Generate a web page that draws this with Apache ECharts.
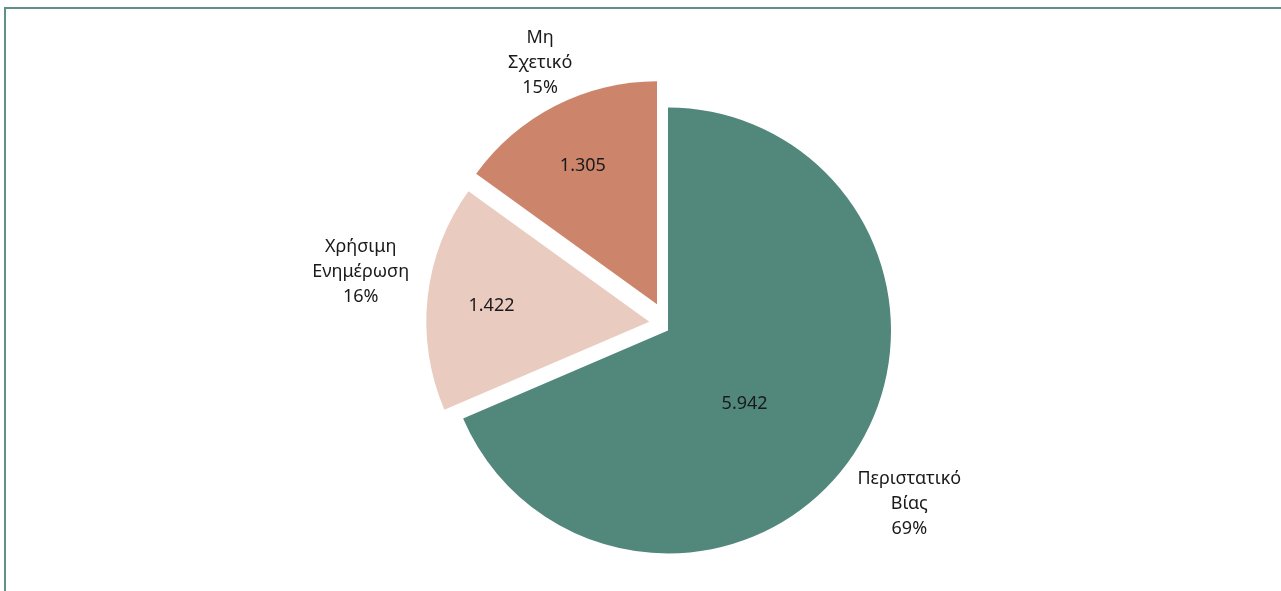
<!DOCTYPE html>
<html>
<head>
<meta charset="utf-8">
<script src="https://cdn.jsdelivr.net/npm/echarts@6/dist/echarts.min.js"></script>
<style>
html,body{margin:0;padding:0;background:#fff;}
#chart{width:1281px;height:591px;}
</style>
</head>
<body>
<div id="chart"></div>
<script>
// ---- data ----
const categories = ['Περιστατικό Βίας', 'Χρήσιμη Ενημέρωση', 'Μη Σχετικό'];
const labelLines = [['Περιστατικό', 'Βίας'], ['Χρήσιμη', 'Ενημέρωση'], ['Μη', 'Σχετικό']];
const values = [5942, 1422, 1305];

// ---- style / layout ----
const colors = ['#52877c', '#eacbc0', '#cc846b'];
const baseCenter = [668, 330.5];
const radius = 223;
// explosion offsets of each slice (pixels, from the base centre)
const explode = [[0, 0], [-18.7, -8.8], [-11, -26.2]];
// label nudges
const insideNudge = [[-19, 10], [-44, -3], [-22, -36]];
const outsideNudge = [[5, 18], [-26, -28], [1, -16]];
const textColor = '#1a1a1a';
const fontFamily = '"Noto Sans", "Open Sans", sans-serif';

const total = values.reduce((a, b) => a + b, 0);
function fmtThousands(v) {
  return String(v).replace(/\B(?=(\d{3})+(?!\d))/g, '.');
}

const series = [];
// one series per slice (so every slice can be exploded on its own)
values.forEach((_, k) => {
  series.push({
    type: 'pie',
    silent: true,
    center: [baseCenter[0] + explode[k][0], baseCenter[1] + explode[k][1]],
    radius: radius,
    startAngle: 90,
    clockwise: true,
    avoidLabelOverlap: false,
    animation: false,
    data: categories.map((name, i) => ({
      name: name,
      value: values[i],
      itemStyle: { color: i === k ? colors[i] : 'rgba(0,0,0,0)', borderWidth: 0 },
      label: { show: i === k }
    })),
    label: {
      position: 'inside',
      color: textColor,
      fontFamily: fontFamily,
      fontSize: 18,
      formatter: p => fmtThousands(p.value)
    },
    labelLine: { show: false },
    labelLayout: p => (p.dataIndex === k ? { dx: insideNudge[k][0], dy: insideNudge[k][1] } : {})
  });
});
// transparent series carrying the category / percentage labels
series.push({
  type: 'pie',
  silent: true,
  center: baseCenter,
  radius: 560,
  startAngle: 90,
  clockwise: true,
  avoidLabelOverlap: false,
  animation: false,
  data: categories.map((name, i) => ({
    name: name,
    value: values[i],
    itemStyle: { color: 'rgba(0,0,0,0)', borderWidth: 0 }
  })),
  label: {
    position: 'inside',
    color: textColor,
    fontFamily: fontFamily,
    fontSize: 18,
    lineHeight: 25,
    align: 'center',
    formatter: p => labelLines[p.dataIndex].join('\n') + '\n' + Math.round(p.value / total * 100) + '%'
  },
  labelLine: { show: false },
  labelLayout: p => ({ dx: outsideNudge[p.dataIndex][0], dy: outsideNudge[p.dataIndex][1] })
});

const chart = echarts.init(document.getElementById('chart'), null, { renderer: 'canvas' });
chart.setOption({
  backgroundColor: '#fff',
  animation: false,
  graphic: [{
    type: 'rect',
    silent: true,
    shape: { x: 5, y: 8, width: 1400, height: 800 },
    style: { fill: 'none', stroke: '#5f9186', lineWidth: 2 }
  }],
  series: series
});
</script>
</body>
</html>
